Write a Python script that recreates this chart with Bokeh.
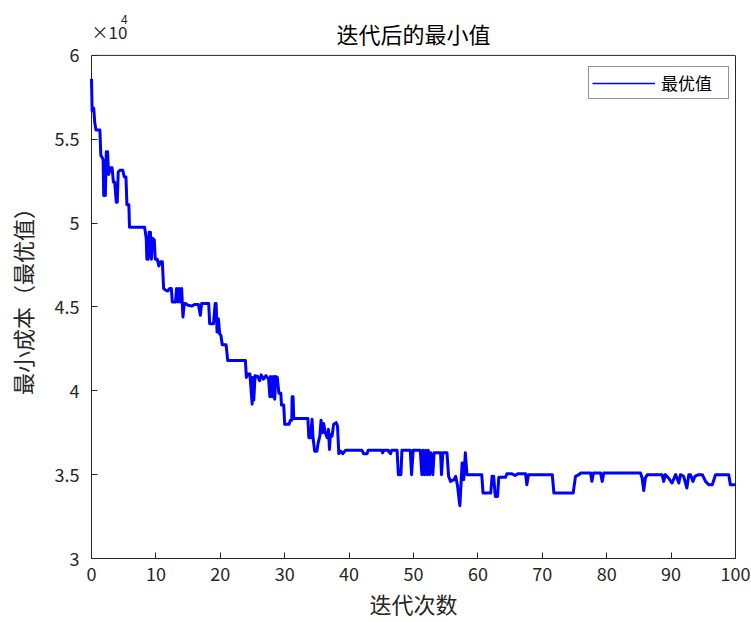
from bokeh.plotting import figure
from bokeh.models import FixedTicker, Label, Legend, LegendItem, LinearAxis, Span
from bokeh.embed import file_html
from bokeh.resources import INLINE

# ---- data ----
iterations = [
    0.0, 0.1, 0.35, 0.5, 0.7, 1.3, 1.45, 1.8, 1.9, 2.15, 2.3, 2.5, 2.65, 2.95, 3.2, 3.4, 3.6,
    3.85, 4.0, 4.15, 4.4, 4.85, 5.1, 5.35, 5.5, 5.8, 5.9, 8.25, 8.5, 8.6, 8.8, 8.95, 9.15,
    9.3, 9.45, 9.75, 9.9, 10.2, 10.45, 10.7, 11.0, 11.2, 11.5, 11.85, 12.15, 12.4, 12.55,
    13.05, 13.2, 13.4, 13.6, 13.8, 14.0, 14.2, 14.4, 14.6, 15.0, 15.6, 16.0, 16.6, 16.9,
    17.1, 18.2, 18.35, 18.95, 19.2, 19.35, 19.5, 19.7, 19.9, 20.1, 20.3, 20.9, 21.15, 23.9,
    24.05, 24.3, 24.6, 24.95, 25.05, 25.2, 25.4, 25.8, 26.1, 26.35, 26.7, 27.1, 27.5, 27.7,
    27.8, 28.1, 28.25, 28.45, 28.6, 28.85, 29.1, 29.4, 29.5, 29.85, 30.0, 30.65, 30.9, 31.1,
    31.15, 31.3, 31.4, 33.6, 33.75, 34.0, 34.25, 34.4, 34.65, 35.0, 35.2, 35.45, 35.65,
    35.85, 36.05, 36.3, 36.6, 36.8, 36.95, 37.1, 37.35, 37.6, 38.0, 38.2, 38.4, 38.7, 39.0,
    39.45, 42.0, 42.25, 42.8, 42.95, 45.1, 45.2, 45.35, 46.1, 46.2, 46.45, 46.6, 47.45,
    47.65, 48.05, 48.2, 49.5, 49.7, 49.95, 51.05, 51.3, 51.5, 51.7, 51.9, 52.1, 52.3, 52.5,
    52.7, 53.0, 53.2, 54.2, 54.35, 54.55, 55.2, 55.45, 55.75, 56.3, 56.55, 56.85, 57.05,
    57.2, 57.4, 57.55, 57.8, 58.05, 58.3, 60.6, 60.8, 62.0, 62.2, 62.45, 62.7, 63.05, 63.25,
    64.3, 64.5, 65.3, 65.8, 66.2, 67.4, 67.6, 67.85, 71.55, 71.8, 74.8, 75.15, 75.7, 75.95,
    77.5, 77.7, 77.95, 79.05, 79.3, 79.55, 85.25, 85.5, 85.75, 86.0, 86.3, 88.6, 88.85,
    89.1, 89.6, 90.15, 90.7, 91.2, 91.45, 91.95, 92.45, 92.75, 93.0, 93.4, 93.7, 94.25,
    94.85, 95.35, 95.85, 96.4, 96.9, 98.95, 99.2, 100.0,
]
best_cost = [
    58600, 56700, 56850, 56000, 55550, 55550, 54050, 53800, 51650, 51650, 54250, 54250, 52900,
    53300, 53300, 52450, 52450, 51250, 51250, 53050, 53150, 53150, 52750, 52750, 51100, 51100,
    49750, 49750, 49100, 47850, 47850, 49450, 49450, 47850, 49100, 49000, 47850, 47850, 47450,
    47700, 47700, 46100, 46000, 45950, 46100, 46100, 45300, 45300, 46100, 45300, 46100, 45300,
    46100, 44400, 45200, 45200, 45100, 45050, 45150, 45150, 44500, 45200, 45200, 44000, 44000,
    45200, 45200, 43500, 44300, 43400, 43300, 42750, 42750, 41800, 41800, 40800, 41000, 41000,
    39200, 40800, 39450, 40900, 40850, 40600, 40950, 40700, 40900, 40700, 39650, 40850, 39650,
    40850, 39500, 40850, 40800, 39850, 39850, 39150, 39150, 38000, 38000, 38250, 38250, 39650,
    39650, 38350, 38350, 37200, 37200, 38300, 37200, 36400, 36400, 36900, 37300, 38250, 37500,
    38050, 37500, 37200, 37700, 36500, 37400, 37300, 38000, 38100, 37900, 36250, 36400, 36250,
    36450, 36450, 36250, 36250, 36450, 36450, 36300, 36450, 36450, 36350, 36250, 36450, 36450,
    35000, 35000, 36450, 36450, 35000, 36450, 36450, 35000, 36450, 35000, 36450, 35000, 36450,
    35000, 36300, 35000, 36300, 36300, 35000, 36300, 36300, 34900, 34600, 34700, 34900, 34300,
    33600, 33150, 34600, 35700, 34700, 36300, 35000, 35000, 33900, 33900, 34900, 34900, 33700,
    33700, 34850, 34850, 35050, 35050, 34950, 35050, 35050, 34400, 35000, 35000, 33900, 33900,
    34900, 35000, 35100, 35100, 34600, 35100, 35100, 34600, 35100, 35100, 34800, 34050, 34800,
    35000, 35000, 34600, 35000, 34800, 34500, 35000, 34500, 35000, 34900, 34200, 35000, 35000,
    34600, 34900, 35000, 35000, 34600, 34400, 34400, 35000, 35000, 34400, 34400,
]
x_ticks = [0, 10, 20, 30, 40, 50, 60, 70, 80, 90, 100]
y_ticks = [30000, 35000, 40000, 45000, 50000, 55000, 60000]
y_tick_labels = ["3", "3.5", "4", "4.5", "5", "5.5", "6"]
y_limits = (30000, 60000)

title_text = "迭代后的最小值"
x_label = "迭代次数"
y_label = "最小成本（最优值）"
legend_label = "最优值"

FONT = "Noto Sans CJK SC"
AX = "#262626"
BLUE = "#0000ff"

# the plotting frame extends 55 px above the axes box (y = 6e4) so that the
# title and the exponent label, which are frame-clipped annotations, stay visible
PX_PER_UNIT = 504.0 / (y_limits[1] - y_limits[0])
top_extra = 55.0 / PX_PER_UNIT

p = figure(width=751, height=621, x_range=(0, 100),
           y_range=(y_limits[0], y_limits[1] + top_extra),
           output_backend="svg", toolbar_location=None,
           min_border_left=91, min_border_right=16, min_border_top=0, min_border_bottom=62)
p.background_fill_color = "white"
p.border_fill_color = "white"
p.outline_line_color = None
p.grid.visible = False

p.xaxis.ticker = FixedTicker(ticks=x_ticks)
p.yaxis.ticker = FixedTicker(ticks=y_ticks)
p.yaxis.bounds = y_limits
p.yaxis.major_label_overrides = {v: s for v, s in zip(y_ticks, y_tick_labels)}

for ax in (p.xaxis, p.yaxis):
    ax.axis_line_color = AX
    ax.major_tick_line_color = AX
    ax.major_tick_in = 6
    ax.major_tick_out = 0
    ax.minor_tick_line_color = None
    ax.major_label_text_font = FONT
    ax.major_label_text_font_size = "18px"
    ax.major_label_text_color = AX
    ax.axis_label_text_font = FONT
    ax.axis_label_text_font_size = "22px"
    ax.axis_label_text_font_style = "normal"
    ax.axis_label_text_color = AX

p.xaxis.axis_label = x_label
# two ideographic spaces at the end centre the label on the axes box, not the taller frame
p.yaxis.axis_label = y_label + "\u3000\u3000"
p.xaxis.major_label_standoff = 8
p.yaxis.major_label_standoff = 12
p.xaxis.axis_label_standoff = 3
p.yaxis.axis_label_standoff = 14

# right and top edges of the axes box
right_ax = LinearAxis(ticker=FixedTicker(ticks=[]), bounds=y_limits, axis_line_color=AX,
                      major_tick_line_color=None, minor_tick_line_color=None,
                      major_label_standoff=0)
p.add_layout(right_ax, "right")
p.add_layout(Span(location=y_limits[1], dimension="width", line_color=AX, line_width=1))

# thin line only used for the legend swatch (drawn underneath the thick curve)
legend_line = p.line(iterations, best_cost, line_color=BLUE, line_width=1.5)
p.line(iterations, best_cost, line_color=BLUE, line_width=3, line_join="round",
       level="overlay")

legend = Legend(items=[LegendItem(label=legend_label, renderers=[legend_line])],
                location=(497, 459), padding=3, spacing=0,
                glyph_width=63, glyph_height=20, label_standoff=6, label_height=20,
                label_width=64,
                label_text_font=FONT, label_text_font_size="17px", label_text_color="#000000",
                border_line_color=AX, border_line_width=1, background_fill_alpha=1.0)
p.add_layout(legend)

p.add_layout(Label(x=50, y=y_limits[1] + 22 / PX_PER_UNIT, text=title_text,
                   text_align="center", text_baseline="middle",
                   text_font=FONT, text_font_size="22px", text_color="#000000"))
p.add_layout(Label(x=0.0, y=y_limits[1] + 24 / PX_PER_UNIT, text="×10",
                   text_align="left", text_baseline="middle",
                   text_font=FONT, text_font_size="17px", text_color=AX))
p.add_layout(Label(x=4.6, y=y_limits[1] + 36 / PX_PER_UNIT, text="4",
                   text_align="left", text_baseline="middle",
                   text_font=FONT, text_font_size="12px", text_color=AX))

open("out.html", "w").write(file_html(p, INLINE))
